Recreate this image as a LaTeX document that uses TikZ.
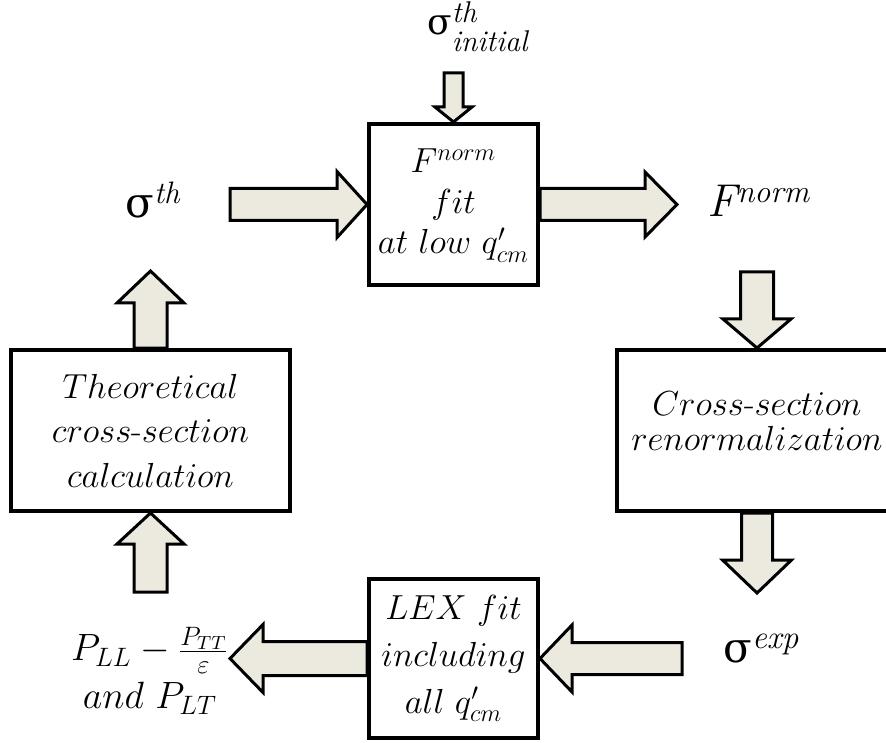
\RequirePackage{fix-cm}
\documentclass[tikz,border=0pt]{standalone}
\usepackage{fontspec}
\usetikzlibrary{calc}
\newfontfamily\cambr{DejaVu Serif}
\definecolor{arrfill}{RGB}{236,234,222}
\pgfdeclarelayer{background}
\pgfsetlayers{background,main}
\tikzset{
  box/.style={draw=black, line width=2pt, rectangle, inner sep=0pt, align=center},
  barrow/.style={draw=black, line width=1.5pt, fill=arrfill, line join=miter},
  lbl/.style={inner sep=0pt},
}
\newcommand\blockarr[5]{%
  \begin{pgfonlayer}{background}
  \path (#2) coordinate (bt) ($(#2)!#5!(#1)$) coordinate (bh);
  \draw[barrow] ($(#1)!#3!90:(bt)$) -- ($(bh)!#3!90:(bt)$) -- ($(bh)!#4!90:(bt)$) -- (bt)
     -- ($(bh)!#4!-90:(bt)$) -- ($(bh)!#3!-90:(bt)$) -- ($(#1)!#3!-90:(bt)$) -- cycle;
  \end{pgfonlayer}}
\begin{document}
\begin{tikzpicture}[x=0.5pt,y=-0.5pt]
\useasboundingbox (0,0) rectangle (886,742);

% boxes
\node[box, minimum width=84.5pt, minimum height=80.5pt, text depth=3pt, font=\fontsize{17.4}{20.25}\selectfont] (fit) at (453.5,204.5)
  {$F^{norm}$\\ $fit$\\ $at\ low\ q'_{cm}$};
\node[box, minimum width=139.5pt, minimum height=80.5pt, font=\fontsize{17.4}{22.25}\selectfont] (theo) at (150.5,430.5)
  {$Theoretical$\\ $cross$-$section$\\ $calculation$};
\node[box, minimum width=140pt, minimum height=80.5pt, text depth=9pt, font=\fontsize{17.4}{17.5}\selectfont] (renorm) at (757,430.5)
  {$Cross$-$section$\\ $renormalization$};
\node[box, minimum width=84.5pt, minimum height=79.5pt, font=\fontsize{17.4}{23.5}\selectfont] (lex) at (453.5,658.5)
  {$LEX\ fit$\\ $including$\\ $all\ q'_{cm}$};

% labels
\node[lbl, anchor=base west] (sigini) at (427,35)
  {{\cambr\fontsize{18}{18}\selectfont σ}\rlap{\raisebox{6pt}{\fontsize{15}{15}\selectfont\itshape th}}\raisebox{-8.5pt}{\fontsize{15}{15}\selectfont\itshape initial}};
\node[lbl, anchor=base west] (sigth) at (125,218)
  {{\cambr\fontsize{21}{21}\selectfont σ}\raisebox{7pt}{\fontsize{15.5}{15.5}\selectfont\itshape th}};
\node[lbl, anchor=base west] (fnorm) at (707,217)
  {{\fontsize{23}{23}\selectfont\itshape F}\raisebox{7pt}{\fontsize{16}{16}\selectfont\itshape norm}};
\node[lbl, anchor=base west] (sigexp) at (723,662)
  {{\cambr\fontsize{21}{21}\selectfont σ}\raisebox{7pt}{\fontsize{16.5}{16.5}\selectfont\itshape exp}};
\node[lbl, align=center, font=\fontsize{19}{24}\selectfont] (pll) at (150,671)
  {$P_{LL}-\frac{P_{TT}}{\varepsilon}$\\ $and\ P_{LT}$};

% free ends of the block arrows
\coordinate (a1s) at (453.5,73);
\coordinate (a2s) at (230,204.5);
\coordinate (a3e) at (677,204.5);
\coordinate (a4s) at (757,272);
\coordinate (a5e) at (757,593);
\coordinate (a6s) at (682,658.5);
\coordinate (a7e) at (230,658.5);
\coordinate (a8s) at (150.5,592);
\coordinate (a9e) at (150.5,271);

% block arrows
\blockarr{a1s}{fit.north}{4.75pt}{9.25pt}{7.5pt}
\blockarr{a2s}{fit.west}{8pt}{16.5pt}{15pt}
\blockarr{fit.east}{a3e}{8pt}{16.25pt}{16pt}
\blockarr{a4s}{renorm.north}{8.25pt}{17pt}{14.5pt}
\blockarr{renorm.south}{a5e}{7.75pt}{17.25pt}{16.5pt}
\blockarr{a6s}{lex.east}{8pt}{16.75pt}{16pt}
\blockarr{lex.west}{a7e}{8.5pt}{17pt}{16.5pt}
\blockarr{a8s}{theo.south}{8.25pt}{16.75pt}{15.5pt}
\blockarr{theo.north}{a9e}{8.25pt}{16.75pt}{16pt}
\end{tikzpicture}
\end{document}
